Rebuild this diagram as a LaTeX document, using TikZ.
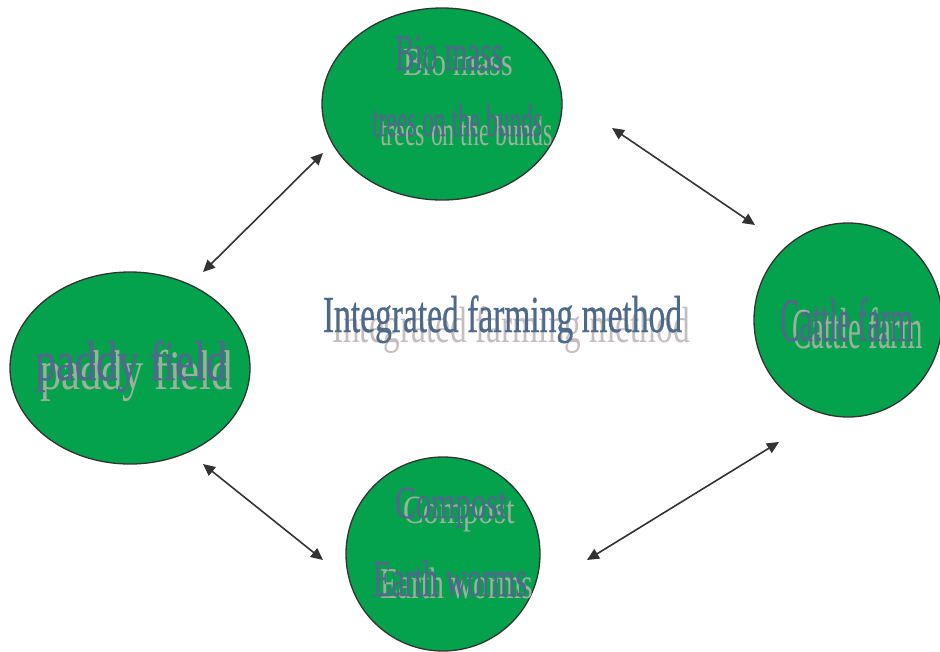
\documentclass[tikz,border=0pt]{standalone}
\usepackage{fontspec}
\setmainfont{Liberation Serif}
\newfontfamily\heavyserif{Liberation Serif}[FakeBold=0.7]
\usepackage{graphicx}
\usetikzlibrary{arrows.meta,shapes.geometric}
\definecolor{fgreen}{HTML}{04A24C}
\definecolor{edge}{HTML}{333333}
\definecolor{maintxt}{HTML}{4E6A8B}
\definecolor{shadin}{HTML}{9EAE9F}
\definecolor{shadout}{HTML}{C6BEBE}
\newcommand\fitw[3]{\resizebox{#1pt}{\height}{\fontsize{#2pt}{#2pt}\selectfont #3}}
\tikzset{
  field/.style={ellipse, draw=edge, line width=1.3pt, fill=fgreen, inner sep=0pt, outer sep=0pt},
  lbl/.style={anchor=base west, inner sep=0pt, outer sep=0pt, text=maintxt, font=\heavyserif},
  shd/.style={anchor=base west, inner sep=0pt, outer sep=0pt, text=shadin},
  shdo/.style={anchor=base west, inner sep=0pt, outer sep=0pt, text=shadout},
  link/.style={draw=edge, line width=1.6pt, {Triangle[length=12pt,width=11pt]}-{Triangle[length=12pt,width=11pt]}}
}
\begin{document}
\begin{tikzpicture}[x=1pt,y=-1pt]
\useasboundingbox (0,0) rectangle (940,651);
% fields
\node[field, minimum width=240pt, minimum height=192pt] (bio) at (442,104) {};
\node[field, minimum width=240pt, minimum height=192pt] (paddy) at (130,368) {};
\node[field, minimum width=188pt, minimum height=194pt] (cattle) at (848,320) {};
\node[field, minimum width=194pt, minimum height=194pt] (compost) at (443,554) {};
% shadows
\node[shdo] (tshd) at (332,342) {\fitw{358}{51}{Integrated farming method}};
\node[shd] (bshd1) at (403,75) {\fitw{110}{40}{Bio mass}};
\node[shd] (bshd2) at (380,145) {\fitw{173}{42}{trees on the bunds}};
\node[shd] (pshd) at (40,389) {\fitw{193}{56}{paddy field}};
\node[shd] (cshd) at (792,348) {\fitw{131}{58}{Cattle farm}};
\node[shd] (kshd1) at (403,523) {\fitw{112}{40}{Compost}};
\node[shd] (kshd2) at (380,598) {\fitw{153}{44}{Earth worms}};
% main texts
\node[lbl] (title) at (323,332) {\fitw{359}{52}{Integrated farming method}};
\node[lbl] (bio1) at (395,70) {\fitw{108}{52}{Bio mass}};
\node[lbl] (bio2) at (372,136) {\fitw{170}{46}{trees on the bunds}};
\node[lbl] (pad) at (35,380) {\fitw{192}{56}{paddy field}};
\node[lbl] (cat) at (780,341) {\fitw{133}{62}{Cattle farm}};
\node[lbl] (com1) at (395,518) {\fitw{112}{46}{Compost}};
\node[lbl] (com2) at (373,596) {\fitw{154}{52}{Earth worms}};
% connector ends
\coordinate (a1) at (203,272);
\coordinate (a2) at (323,153);
\coordinate (b1) at (612,128);
\coordinate (b2) at (755,225);
\coordinate (c1) at (203,464);
\coordinate (c2) at (323,560);
\coordinate (d1) at (779,442);
\coordinate (d2) at (587,560);
\draw[link] (a1) -- (a2);
\draw[link] (b1) -- (b2);
\draw[link] (c1) -- (c2);
\draw[link] (d1) -- (d2);
\end{tikzpicture}
\end{document}
